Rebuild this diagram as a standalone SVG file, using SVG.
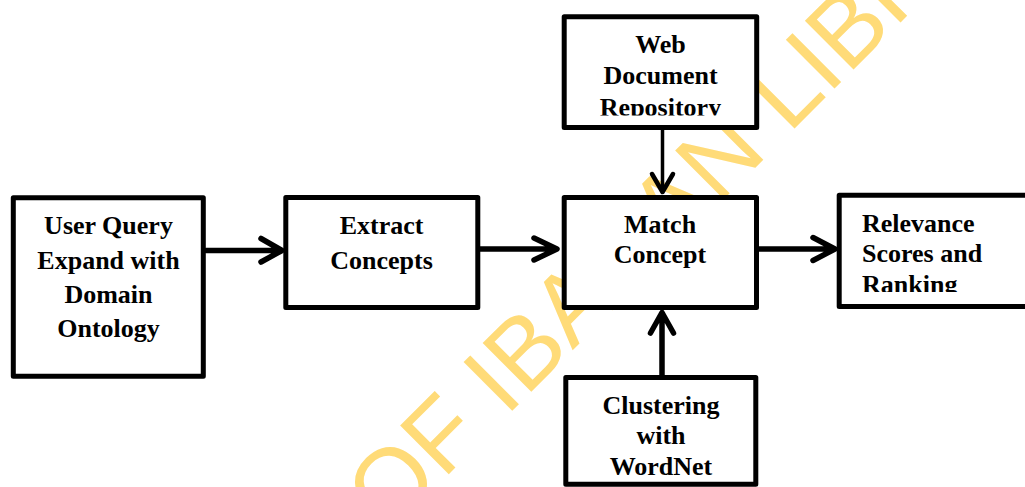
<svg xmlns="http://www.w3.org/2000/svg" width="1025" height="487" viewBox="0 0 1025 487">
  <style>
    .box { fill: #ffffff; stroke: #000000; stroke-width: 5; stroke-linejoin: round; }
    .lbl { font-family: "Liberation Serif", "Times New Roman", serif; font-weight: bold; font-size: 26px; fill: #000000; }
    .mid { text-anchor: middle; }
    .wire { fill: none; stroke: #000000; stroke-width: 5.5; stroke-linecap: round; stroke-linejoin: round; }
    .thin { stroke-width: 3.5; }
    .mark { font-family: "Liberation Sans", Arial, sans-serif; font-size: 100px; fill: #FFDB78; }
  </style>
  <defs>
    <clipPath id="clipWeb"><rect x="566" y="19" width="188" height="96.5"/></clipPath>
    <clipPath id="clipRel"><rect x="841" y="198" width="184" height="94"/></clipPath>
  </defs>

  <rect width="1025" height="487" fill="#ffffff"/>

  <!-- background stamp -->
  <g id="watermark">
    <text class="mark" transform="translate(517,406) rotate(-45)" x="-808.6" y="0">UNIVERSITY OF IBADAN LIBRARY</text>
  </g>

  <!-- connectors -->
  <g id="connectors">
    <path class="wire" d="M206,250.5 H281 M261,238.5 L282,250.5 L261,262"/>
    <path class="wire" d="M480,249 H556 M534,238 L557,249 L534,260"/>
    <path class="wire" d="M759,249 H834 M813,237.5 L835,249 L813,260.5"/>
    <path class="wire thin" d="M662.5,130 V192"/>
    <path class="wire" style="stroke-width:4.5" d="M652,174 L662.5,192 L673,174"/>
    <path class="wire" d="M662,375 V313 M650.5,333 L662,312.5 L673.5,333"/>
  </g>

  <g id="user-query">
    <rect class="box" x="13.3" y="197.8" width="190" height="178.5"/>
    <text class="lbl mid" x="108.5" y="234.3">User Query</text>
    <text class="lbl mid" x="108.5" y="269.3">Expand with</text>
    <text class="lbl mid" x="108.5" y="303.3">Domain</text>
    <text class="lbl mid" x="108.5" y="336.7">Ontology</text>
  </g>

  <g id="extract-concepts">
    <rect class="box" x="285.8" y="197.5" width="192" height="110"/>
    <text class="lbl mid" x="381.5" y="234">Extract</text>
    <text class="lbl mid" x="381.5" y="269.3">Concepts</text>
  </g>

  <g id="match-concept">
    <rect class="box" x="564.2" y="197.5" width="192.3" height="110"/>
    <text class="lbl mid" x="660" y="233.3">Match</text>
    <text class="lbl mid" x="660" y="263.3">Concept</text>
  </g>

  <g id="relevance-scores">
    <rect class="box" x="839.2" y="195.2" width="200" height="111.3"/>
    <g clip-path="url(#clipRel)">
      <text class="lbl" x="862" y="231.7">Relevance</text>
      <text class="lbl" x="862" y="261.7">Scores and</text>
      <text class="lbl" x="862" y="292.5">Ranking</text>
    </g>
  </g>

  <g id="web-repository">
    <rect class="box" x="564.2" y="16.7" width="192.5" height="110.8"/>
    <g clip-path="url(#clipWeb)">
      <text class="lbl mid" x="660.5" y="53.3">Web</text>
      <text class="lbl mid" x="660.5" y="84">Document</text>
      <text class="lbl mid" x="660.5" y="115.8">Repository</text>
    </g>
  </g>

  <g id="clustering-wordnet">
    <rect class="box" x="565.8" y="377.5" width="190" height="106.7"/>
    <text class="lbl mid" x="661" y="414">Clustering</text>
    <text class="lbl mid" x="661" y="444.3">with</text>
    <text class="lbl mid" x="661" y="475">WordNet</text>
  </g>
</svg>
